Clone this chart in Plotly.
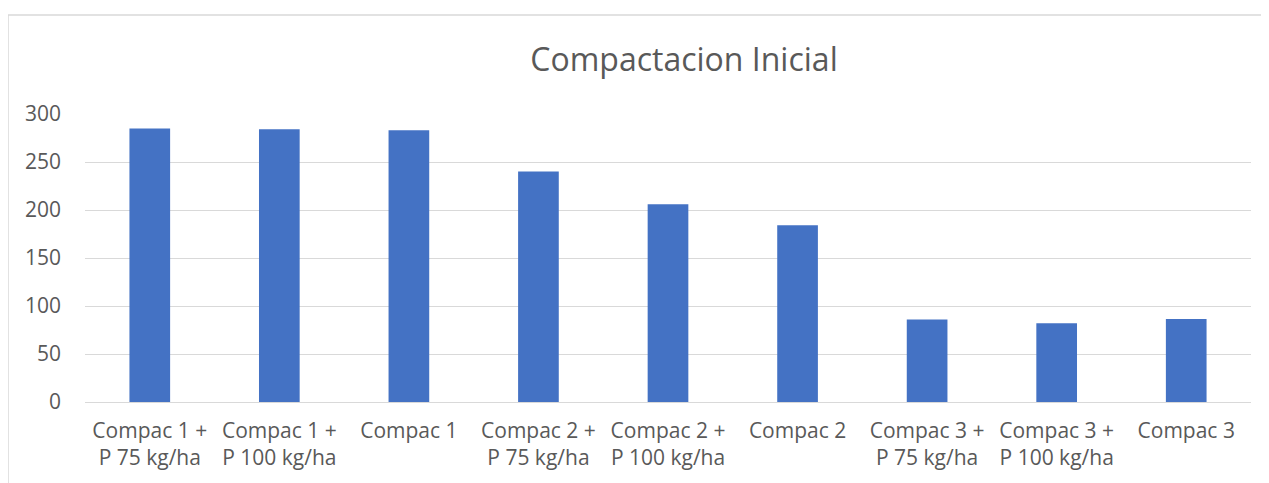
import plotly.graph_objects as go

categories = [
    "Compac 1 +<br>P 75 kg/ha",
    "Compac 1 +<br>P 100 kg/ha",
    "Compac 1",
    "Compac 2 +<br>P 75 kg/ha",
    "Compac 2 +<br>P 100 kg/ha",
    "Compac 2",
    "Compac 3 +<br>P 75 kg/ha",
    "Compac 3 +<br>P 100 kg/ha",
    "Compac 3",
]
values = [285, 284, 283, 240, 206, 184, 86, 82, 86.5]
y_ticks = [0, 50, 100, 150, 200, 250, 300]

# page has an 8px body margin; work in figure coordinates
OFF = 8
W, H = 1269 - OFF, 483 - OFF
L, R, T, B = 85 - OFF, 1251 - OFF, 114 - OFF, 402 - OFF
pw, ph = R - L, B - T

fig = go.Figure(go.Bar(x=categories, y=values, marker=dict(color="#4472C4", line=dict(width=0))))

def px_x(x):
    return (x - OFF - L) / pw

def px_y(y):
    return (B - (y - OFF)) / ph

frame = "#D9D9D9"
fig.update_layout(
    width=W, height=H,
    margin=dict(l=L, r=W - R, t=T, b=H - B, pad=0),
    paper_bgcolor="white", plot_bgcolor="white",
    font=dict(family="Open Sans", color="#595959", size=21),
    bargap=0.686,
    showlegend=False,
    title=dict(text="Compactacion Inicial", font=dict(size=32, color="#595959"),
               x=(684 - OFF) / W, xanchor="center", y=1 - (60 - OFF) / H, yanchor="middle",
               xref="container", yref="container"),
    xaxis=dict(showgrid=False, showline=False, ticks="", tickfont=dict(size=21),
               ticklabelstandoff=14),
    yaxis=dict(range=[0, 300], tickvals=y_ticks, showgrid=True, gridcolor="#D9D9D9",
               gridwidth=1.3, zeroline=True, zerolinecolor="#D9D9D9", zerolinewidth=1.3,
               showline=False, ticks="", tickfont=dict(size=21), ticklabelstandoff=23),
    shapes=[
        dict(type="line", xref="paper", yref="paper", x0=px_x(8), x1=px_x(8),
             y0=px_y(15), y1=px_y(490), line=dict(color=frame, width=1.5)),
        dict(type="line", xref="paper", yref="paper", x0=px_x(8), x1=px_x(1280),
             y0=px_y(15), y1=px_y(15), line=dict(color=frame, width=1.5)),
    ],
)

fig.write_html("out.html")
